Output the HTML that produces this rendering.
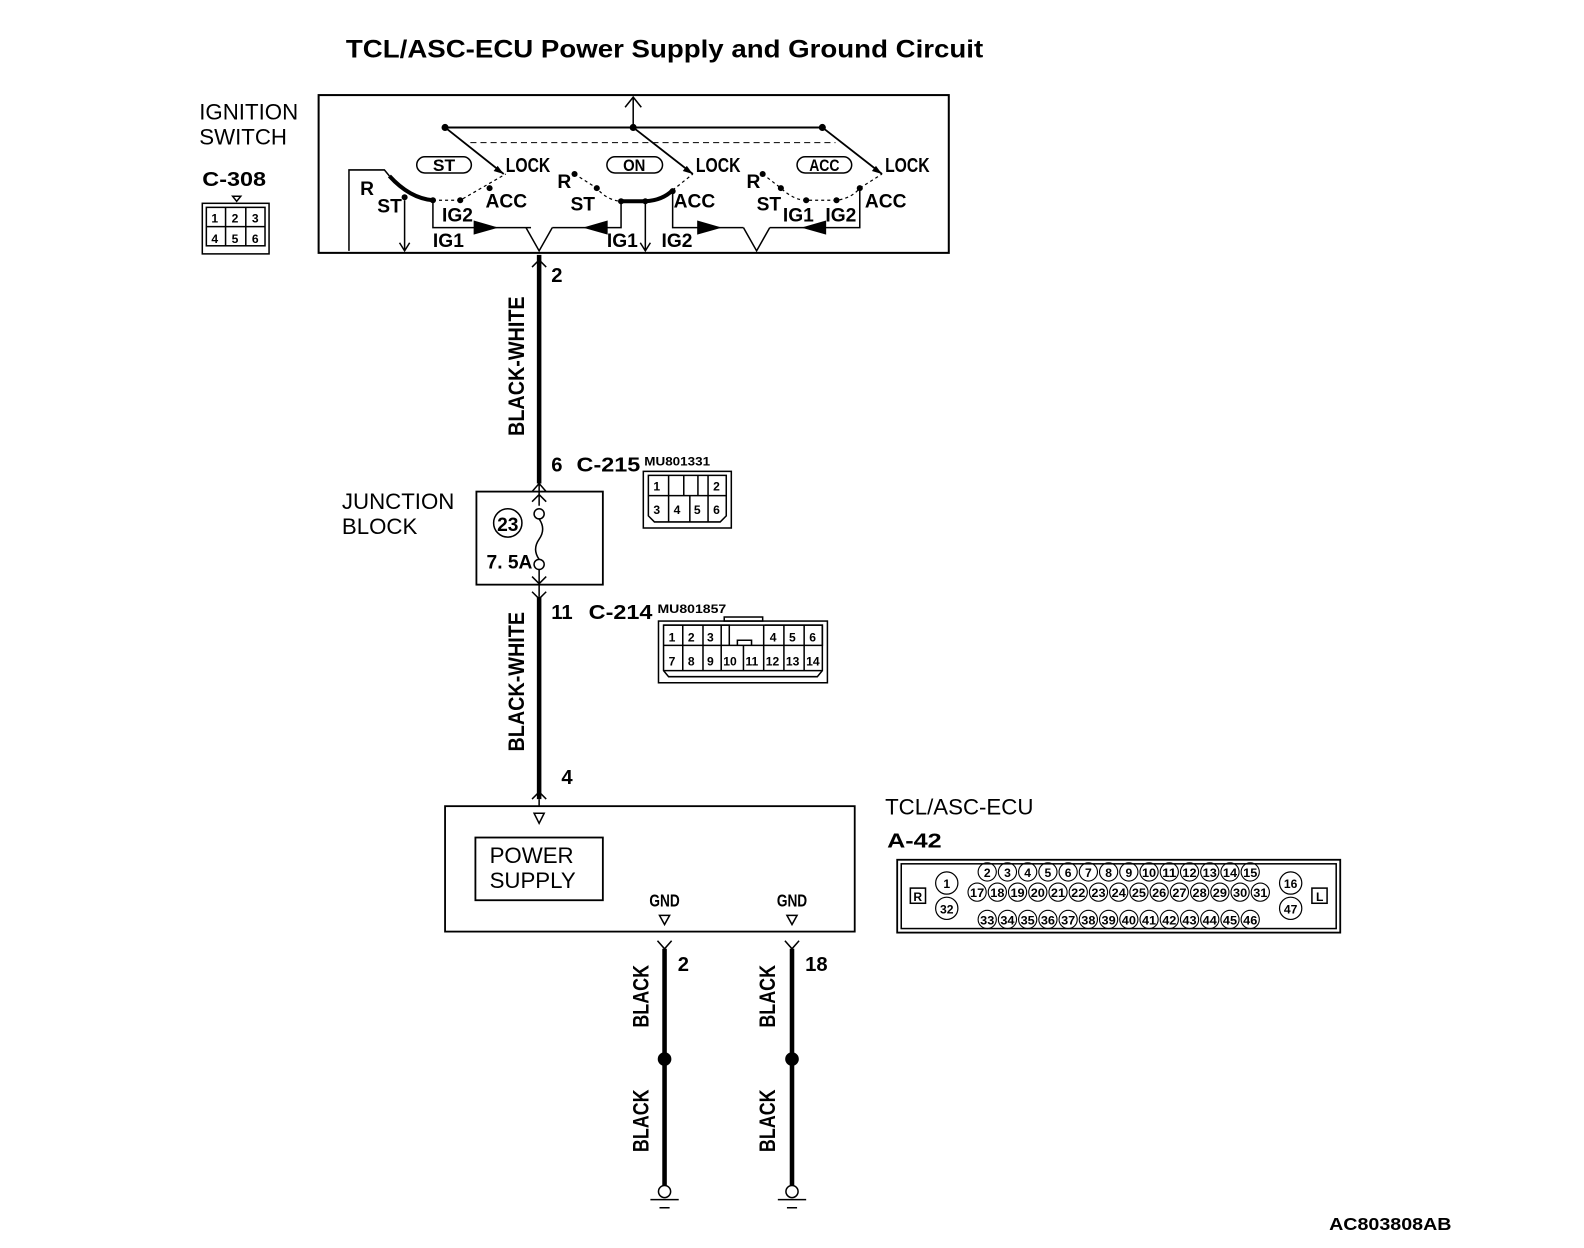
<!DOCTYPE html>
<html><head><meta charset="utf-8"><style>
html,body{margin:0;padding:0;background:#fff}
svg{display:block}
text{font-family:"Liberation Sans",sans-serif;fill:#000}
.b{font-weight:bold}
.n{font-weight:bold;font-size:20px}
.s{font-size:12px;font-weight:bold}
</style></head><body>
<svg width="1584" height="1248" viewBox="0 0 1584 1248" xmlns="http://www.w3.org/2000/svg" stroke="#000" fill="none" stroke-width="1.5">
<g transform="scale(1.0115)">
<text x="657" y="57" text-anchor="middle" class="b" font-size="25" stroke="none" textLength="630" lengthAdjust="spacingAndGlyphs">TCL/ASC-ECU Power Supply and Ground Circuit</text>

<!-- ignition switch -->
<text x="197" y="118" font-size="22" stroke="none">IGNITION</text>
<text x="197" y="143" font-size="22" stroke="none">SWITCH</text>
<text x="200" y="184" class="n" font-size="24" stroke="none" textLength="63" lengthAdjust="spacingAndGlyphs">C-308</text>
<path d="M230 194 l4 5 l4 -5z"/>
<rect x="200" y="201" width="66" height="50" stroke-width="1.5"/>
<rect x="204" y="205" width="58" height="38"/>
<path d="M204 224 H262 M223 205 V243 M243 205 V243"/>
<g class="s" stroke="none" font-size="15"><text x="209" y="220">1</text><text x="229" y="220">2</text><text x="249" y="220">3</text><text x="209" y="240">4</text><text x="229" y="240">5</text><text x="249" y="240">6</text></g>

<rect x="315" y="94" width="623" height="156" stroke-width="2"/>
<path d="M440 126 H813" stroke-width="2"/>
<path d="M626 126 V96 M618 106 L626 96 L634 106" stroke-width="1.5"/>
<path d="M465 141 H826" stroke-dasharray="6 4" stroke-width="1"/>
<g fill="#000" stroke="none"><circle cx="440" cy="126" r="3.5"/><circle cx="626" cy="126" r="3.5"/><circle cx="813" cy="126" r="3.5"/></g>
<path d="M440 126 L498 172 M626 126 L685 172 M813 126 L872 172" stroke-width="1.8"/>
<g fill="#000" stroke="none">
<path d="M498 172 l-10 -3 l4 -5z"/><path d="M685 172 l-10 -3 l4 -5z"/><path d="M872 172 l-10 -3 l4 -5z"/>
</g>
<g class="b" font-size="20" stroke="none">
<text x="500" y="170" textLength="44" lengthAdjust="spacingAndGlyphs">LOCK</text>
<text x="688" y="170" textLength="44" lengthAdjust="spacingAndGlyphs">LOCK</text>
<text x="875" y="170" textLength="44" lengthAdjust="spacingAndGlyphs">LOCK</text>
</g>
<rect x="412" y="155" width="54" height="16" rx="8"/>
<rect x="600" y="155" width="55" height="16" rx="8"/>
<rect x="788" y="155" width="54" height="16" rx="8"/>
<g class="b" font-size="16" stroke="none">
<text x="439" y="169" text-anchor="middle" textLength="22" lengthAdjust="spacingAndGlyphs">ST</text>
<text x="627" y="169" text-anchor="middle" textLength="22" lengthAdjust="spacingAndGlyphs">ON</text>
<text x="815" y="169" text-anchor="middle" textLength="30" lengthAdjust="spacingAndGlyphs">ACC</text>
</g>
<!-- left group -->
<path d="M345 248 V168 H380 L385 174"/>
<path d="M385 174 Q405 196 428 198" stroke-width="4"/>
<path d="M428 198 H455 L500 172" stroke-dasharray="3 3" stroke-width="1.2"/>
<path d="M400 198 V248 M395 240 L400 248 L405 240"/>
<path d="M428 198 V225 H525"/>
<path d="M469 219 L490 225 L469 231z" fill="#000"/>
<path d="M520 225 L533 248 L546 225"/>
<g fill="#000" stroke="none"><circle cx="400" cy="195" r="3"/><circle cx="428" cy="198" r="3"/><circle cx="455" cy="198" r="3"/><circle cx="484" cy="186" r="3"/></g>
<!-- middle group -->
<path d="M568 172 L590 186 Q600 198 614 199" stroke-dasharray="3 3" stroke-width="1.2"/>
<path d="M614 199 H638 Q655 198 665 188" stroke-width="4"/>
<path d="M665 188 L685 172" stroke-dasharray="3 3" stroke-width="1.2"/>
<path d="M614 199 V225 H546"/>
<path d="M600 219 L579 225 L600 231z" fill="#000"/>
<path d="M638 199 V248 M633 240 L638 248 L643 240"/>
<path d="M665 190 V225 H735"/>
<path d="M690 219 L711 225 L690 231z" fill="#000"/>
<path d="M735 225 L748 248 L761 225"/>
<g fill="#000" stroke="none"><circle cx="568" cy="172" r="3"/><circle cx="590" cy="186" r="3"/><circle cx="614" cy="199" r="3"/><circle cx="638" cy="199" r="3"/><circle cx="665" cy="189" r="3"/></g>
<!-- right group -->
<path d="M754 172 L772 186 Q785 198 797 198 H827 Q842 196 850 186 L872 172" stroke-dasharray="3 3" stroke-width="1.2"/>
<path d="M850 186 V225 H761"/>
<path d="M816 219 L795 225 L816 231z" fill="#000"/>
<g fill="#000" stroke="none"><circle cx="754" cy="172" r="3"/><circle cx="772" cy="186" r="3"/><circle cx="797" cy="198" r="3"/><circle cx="827" cy="198" r="3"/><circle cx="850" cy="186" r="3"/></g>
<g class="b" font-size="19" stroke="none">
<text x="356" y="193">R</text><text x="373" y="210">ST</text><text x="437" y="219">IG2</text><text x="480" y="205">ACC</text><text x="428" y="244">IG1</text>
<text x="551" y="186">R</text><text x="564" y="208">ST</text><text x="600" y="244">IG1</text><text x="654" y="244">IG2</text><text x="666" y="205">ACC</text>
<text x="738" y="186">R</text><text x="748" y="208">ST</text><text x="774" y="219">IG1</text><text x="816" y="219">IG2</text><text x="855" y="205">ACC</text>
</g>

<!-- main wire -->
<path d="M533 252 V478" stroke-width="4.5"/>
<path d="M526 264 L533 257 L540 264" stroke-width="1.5"/>
<text x="545" y="279" class="n" stroke="none">2</text>
<text transform="translate(518 362) rotate(-90)" text-anchor="middle" class="b" font-size="22" stroke="none" textLength="138" lengthAdjust="spacingAndGlyphs">BLACK-WHITE</text>
<text x="545" y="466" class="n" font-size="22" stroke="none">6</text>
<text x="570" y="466" class="n" font-size="24" stroke="none" textLength="63" lengthAdjust="spacingAndGlyphs">C-215</text>
<text x="637" y="460" class="s" stroke="none" textLength="65" lengthAdjust="spacingAndGlyphs">MU801331</text>
<path d="M526 486 L533 478 L540 486 M533 478 V500 M526 496 L533 489 L540 496"/>
<!-- C-215 -->
<rect x="636" y="466" width="87" height="56"/>
<path d="M641 470 H718 V510 L712 516 H647 L641 510z"/>
<path d="M641 490 H718 M661 470 V516 M682 490 V516 M700 470 V516 M676 470 V490 H690 V470"/>
<g class="s" font-size="14" stroke="none"><text x="646" y="485">1</text><text x="705" y="485">2</text><text x="646" y="508">3</text><text x="666" y="508">4</text><text x="686" y="508">5</text><text x="705" y="508">6</text></g>

<!-- junction block -->
<text x="338" y="503" font-size="22" stroke="none">JUNCTION</text>
<text x="338" y="528" font-size="22" stroke="none">BLOCK</text>
<rect x="471" y="486" width="125" height="92" stroke-width="1.8"/>
<circle cx="502" cy="517" r="14"/>
<text x="502" y="525" text-anchor="middle" class="b" font-size="19" stroke="none">23</text>
<circle cx="533" cy="508" r="5"/><circle cx="533" cy="558" r="5"/>
<path d="M533 513 Q540 523 533 533 Q526 543 533 553"/>
<text x="481" y="562" class="b" font-size="19" stroke="none">7. 5A</text>
<path d="M533 563 V590 M526 570 L533 577 L540 570 M526 585 L533 592 L540 585"/>
<path d="M533 590 V790" stroke-width="4.5"/>
<text x="545" y="612" class="n" font-size="22" stroke="none">11</text>
<text x="582" y="612" class="n" font-size="24" stroke="none" textLength="63" lengthAdjust="spacingAndGlyphs">C-214</text>
<text x="650" y="606" class="s" stroke="none" textLength="68" lengthAdjust="spacingAndGlyphs">MU801857</text>
<text transform="translate(518 674) rotate(-90)" text-anchor="middle" class="b" font-size="22" stroke="none" textLength="138" lengthAdjust="spacingAndGlyphs">BLACK-WHITE</text>
<!-- C-214 -->
<rect x="651" y="614" width="167" height="61"/>
<rect x="716" y="610" width="38" height="4"/>
<path d="M656 618 H813 V663 L808 669 H661 L656 663z"/>
<path d="M656 618 H721 V638 H656 M756 618 H813 V638 H756 M656 638 H813 M656 663 H813"/>
<path d="M675 618 V663 M695 618 V663 M713 618 V663 M735 638 V663 M755 618 V663 M775 618 V663 M795 618 V663 M729 638 V633 H743 V638"/>
<g class="s" font-size="14" stroke="none">
<text x="661" y="634">1</text><text x="680" y="634">2</text><text x="699" y="634">3</text><text x="761" y="634">4</text><text x="780" y="634">5</text><text x="800" y="634">6</text>
<text x="661" y="658">7</text><text x="680" y="658">8</text><text x="699" y="658">9</text><text x="715" y="658">10</text><text x="737" y="658">11</text><text x="757" y="658">12</text><text x="777" y="658">13</text><text x="797" y="658">14</text>
</g>
<path d="M526 790 L533 783 L540 790 M533 790 V797"/>
<text x="555" y="775" class="n" font-size="22" stroke="none">4</text>

<!-- ECU -->
<rect x="440" y="797" width="405" height="124" stroke-width="1.8"/>
<path d="M528 804 H538 L533 814z"/>
<rect x="470" y="828" width="126" height="62" stroke-width="1.8"/>
<text x="484" y="853" font-size="22" stroke="none">POWER</text>
<text x="484" y="878" font-size="22" stroke="none">SUPPLY</text>
<text x="657" y="896" text-anchor="middle" class="b" font-size="17" stroke="none" textLength="30" lengthAdjust="spacingAndGlyphs">GND</text>
<text x="783" y="896" text-anchor="middle" class="b" font-size="17" stroke="none" textLength="30" lengthAdjust="spacingAndGlyphs">GND</text>
<path d="M652 905 H662 L657 914z M778 905 H788 L783 914z"/>
<text x="875" y="805" font-size="22" stroke="none">TCL/ASC-ECU</text>
<text x="877" y="838" class="n" font-size="24" stroke="none" textLength="54" lengthAdjust="spacingAndGlyphs">A-42</text>
<rect x="887" y="850" width="438" height="72" stroke-width="1.8"/>
<rect x="891" y="854" width="430" height="64"/>
<rect x="900" y="878" width="15" height="15"/><text x="903" y="891" class="s" font-size="14" stroke="none">R</text>
<rect x="1297" y="878" width="15" height="15"/><text x="1301" y="891" class="s" font-size="14" stroke="none">L</text>
<g stroke-width="1.2">
<circle cx="936" cy="873" r="11"/><circle cx="936" cy="898" r="11"/><circle cx="1276" cy="873" r="11"/><circle cx="1276" cy="898" r="11"/>
</g>
<g class="s" font-size="14" stroke="none" text-anchor="middle">
<text x="936" y="878">1</text><text x="936" y="903">32</text><text x="1276" y="878">16</text><text x="1276" y="903">47</text>
</g>
<g stroke-width="1.1">
<circle cx="976" cy="862" r="9"/><circle cx="996" cy="862" r="9"/><circle cx="1016" cy="862" r="9"/><circle cx="1036" cy="862" r="9"/><circle cx="1056" cy="862" r="9"/><circle cx="1076" cy="862" r="9"/><circle cx="1096" cy="862" r="9"/><circle cx="1116" cy="862" r="9"/><circle cx="1136" cy="862" r="9"/><circle cx="1156" cy="862" r="9"/><circle cx="1176" cy="862" r="9"/><circle cx="1196" cy="862" r="9"/><circle cx="1216" cy="862" r="9"/><circle cx="1236" cy="862" r="9"/>
<circle cx="966" cy="882" r="9"/><circle cx="986" cy="882" r="9"/><circle cx="1006" cy="882" r="9"/><circle cx="1026" cy="882" r="9"/><circle cx="1046" cy="882" r="9"/><circle cx="1066" cy="882" r="9"/><circle cx="1086" cy="882" r="9"/><circle cx="1106" cy="882" r="9"/><circle cx="1126" cy="882" r="9"/><circle cx="1146" cy="882" r="9"/><circle cx="1166" cy="882" r="9"/><circle cx="1186" cy="882" r="9"/><circle cx="1206" cy="882" r="9"/><circle cx="1226" cy="882" r="9"/><circle cx="1246" cy="882" r="9"/>
<circle cx="976" cy="909" r="9"/><circle cx="996" cy="909" r="9"/><circle cx="1016" cy="909" r="9"/><circle cx="1036" cy="909" r="9"/><circle cx="1056" cy="909" r="9"/><circle cx="1076" cy="909" r="9"/><circle cx="1096" cy="909" r="9"/><circle cx="1116" cy="909" r="9"/><circle cx="1136" cy="909" r="9"/><circle cx="1156" cy="909" r="9"/><circle cx="1176" cy="909" r="9"/><circle cx="1196" cy="909" r="9"/><circle cx="1216" cy="909" r="9"/><circle cx="1236" cy="909" r="9"/>
</g>
<g class="s" font-size="12" stroke="none" text-anchor="middle">
<text x="976" y="867">2</text><text x="996" y="867">3</text><text x="1016" y="867">4</text><text x="1036" y="867">5</text><text x="1056" y="867">6</text><text x="1076" y="867">7</text><text x="1096" y="867">8</text><text x="1116" y="867">9</text><text x="1136" y="867" textLength="14" lengthAdjust="spacingAndGlyphs">10</text><text x="1156" y="867" textLength="14" lengthAdjust="spacingAndGlyphs">11</text><text x="1176" y="867" textLength="14" lengthAdjust="spacingAndGlyphs">12</text><text x="1196" y="867" textLength="14" lengthAdjust="spacingAndGlyphs">13</text><text x="1216" y="867" textLength="14" lengthAdjust="spacingAndGlyphs">14</text><text x="1236" y="867" textLength="14" lengthAdjust="spacingAndGlyphs">15</text>
<text x="966" y="887" textLength="14" lengthAdjust="spacingAndGlyphs">17</text><text x="986" y="887" textLength="14" lengthAdjust="spacingAndGlyphs">18</text><text x="1006" y="887" textLength="14" lengthAdjust="spacingAndGlyphs">19</text><text x="1026" y="887" textLength="14" lengthAdjust="spacingAndGlyphs">20</text><text x="1046" y="887" textLength="14" lengthAdjust="spacingAndGlyphs">21</text><text x="1066" y="887" textLength="14" lengthAdjust="spacingAndGlyphs">22</text><text x="1086" y="887" textLength="14" lengthAdjust="spacingAndGlyphs">23</text><text x="1106" y="887" textLength="14" lengthAdjust="spacingAndGlyphs">24</text><text x="1126" y="887" textLength="14" lengthAdjust="spacingAndGlyphs">25</text><text x="1146" y="887" textLength="14" lengthAdjust="spacingAndGlyphs">26</text><text x="1166" y="887" textLength="14" lengthAdjust="spacingAndGlyphs">27</text><text x="1186" y="887" textLength="14" lengthAdjust="spacingAndGlyphs">28</text><text x="1206" y="887" textLength="14" lengthAdjust="spacingAndGlyphs">29</text><text x="1226" y="887" textLength="14" lengthAdjust="spacingAndGlyphs">30</text><text x="1246" y="887" textLength="14" lengthAdjust="spacingAndGlyphs">31</text>
<text x="976" y="914" textLength="14" lengthAdjust="spacingAndGlyphs">33</text><text x="996" y="914" textLength="14" lengthAdjust="spacingAndGlyphs">34</text><text x="1016" y="914" textLength="14" lengthAdjust="spacingAndGlyphs">35</text><text x="1036" y="914" textLength="14" lengthAdjust="spacingAndGlyphs">36</text><text x="1056" y="914" textLength="14" lengthAdjust="spacingAndGlyphs">37</text><text x="1076" y="914" textLength="14" lengthAdjust="spacingAndGlyphs">38</text><text x="1096" y="914" textLength="14" lengthAdjust="spacingAndGlyphs">39</text><text x="1116" y="914" textLength="14" lengthAdjust="spacingAndGlyphs">40</text><text x="1136" y="914" textLength="14" lengthAdjust="spacingAndGlyphs">41</text><text x="1156" y="914" textLength="14" lengthAdjust="spacingAndGlyphs">42</text><text x="1176" y="914" textLength="14" lengthAdjust="spacingAndGlyphs">43</text><text x="1196" y="914" textLength="14" lengthAdjust="spacingAndGlyphs">44</text><text x="1216" y="914" textLength="14" lengthAdjust="spacingAndGlyphs">45</text><text x="1236" y="914" textLength="14" lengthAdjust="spacingAndGlyphs">46</text>
</g>

<!-- ground wires -->
<path d="M650 930 L657 938 L664 930 M776 930 L783 938 L790 930" stroke-width="1.5"/>
<path d="M657 938 V1172 M783 938 V1172" stroke-width="4.5"/>
<circle cx="657" cy="1047" r="6" fill="#000"/><circle cx="783" cy="1047" r="6" fill="#000"/>
<circle cx="657" cy="1178" r="6"/><circle cx="783" cy="1178" r="6"/>
<path d="M643 1186 H671 M652 1194 H662 M769 1186 H797 M778 1194 H788" stroke-width="1.5"/>
<text x="670" y="960" class="n" font-size="22" stroke="none">2</text>
<text x="796" y="960" class="n" font-size="22" stroke="none">18</text>
<g class="b" font-size="22" stroke="none" text-anchor="middle">
<text transform="translate(641 985) rotate(-90)" textLength="62" lengthAdjust="spacingAndGlyphs">BLACK</text>
<text transform="translate(641 1108) rotate(-90)" textLength="62" lengthAdjust="spacingAndGlyphs">BLACK</text>
<text transform="translate(766 985) rotate(-90)" textLength="62" lengthAdjust="spacingAndGlyphs">BLACK</text>
<text transform="translate(766 1108) rotate(-90)" textLength="62" lengthAdjust="spacingAndGlyphs">BLACK</text>
</g>
<text x="1314" y="1216" class="b" font-size="17" stroke="none" textLength="121" lengthAdjust="spacingAndGlyphs">AC803808AB</text>
</g>
</svg>
</body></html>
